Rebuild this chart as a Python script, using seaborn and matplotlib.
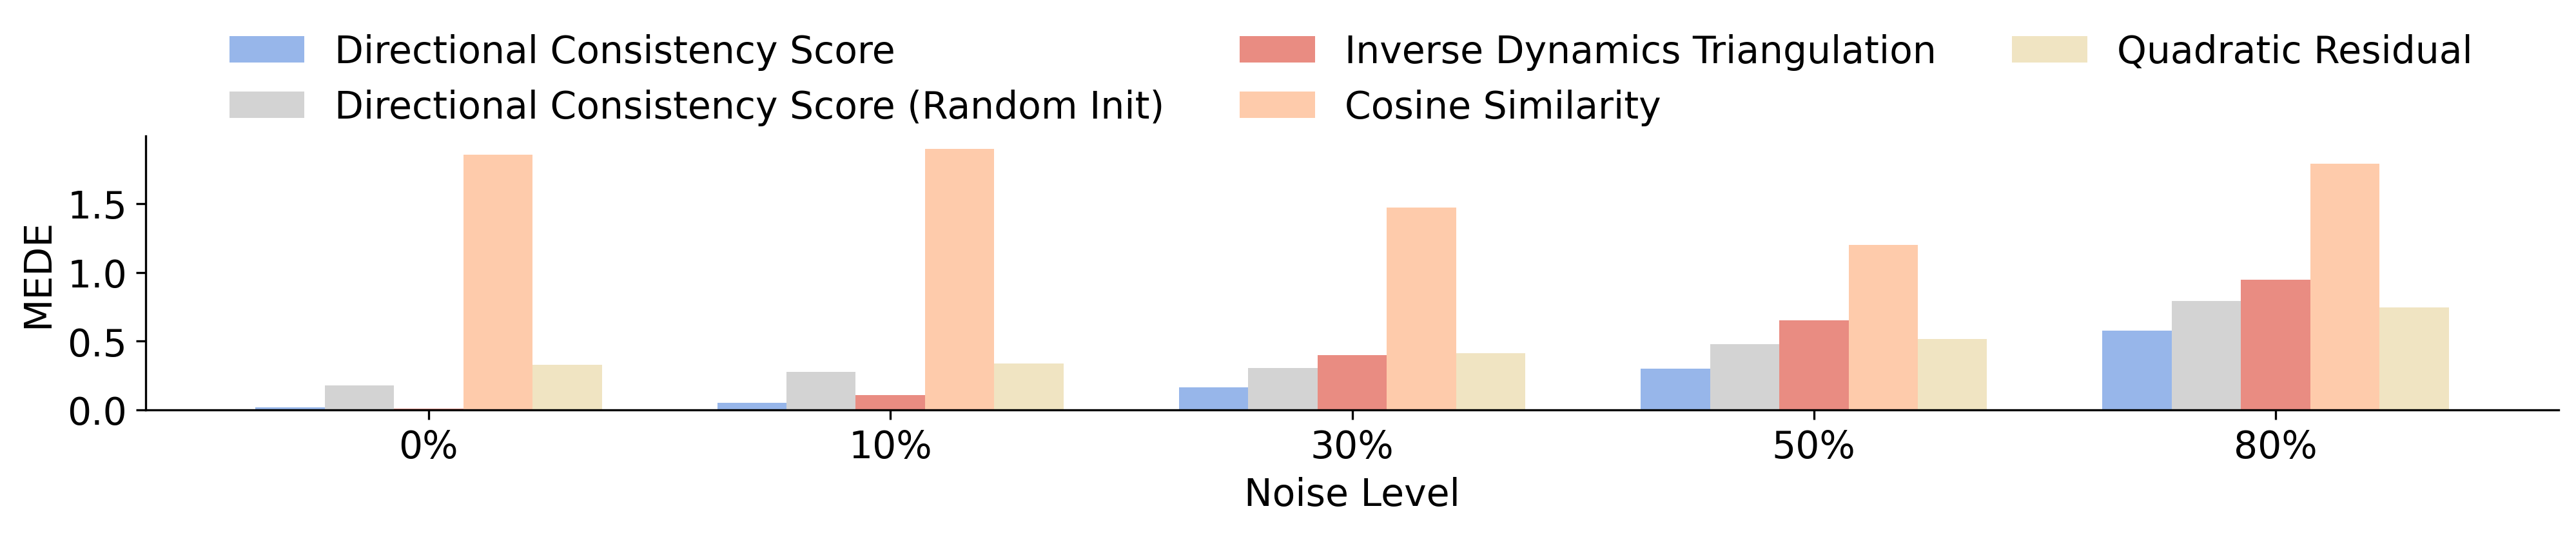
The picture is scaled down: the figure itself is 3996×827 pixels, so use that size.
import pandas as pd
import seaborn as sb
from matplotlib import pyplot as plt

# values (MEDE per noise level)
noise_levels = ["0%", "10%", "30%", "50%", "80%"]
methods = ["Directional Consistency Score",
           "Directional Consistency Score (Random Init)",
           "Inverse Dynamics Triangulation",
           "Cosine Similarity",
           "Quadratic Residual"]
dcs = [0.02, 0.05, 0.163, 0.30, 0.576]
dcs_random = [0.18, 0.276, 0.304, 0.478, 0.792]
idt = [0.01, 0.107, 0.398, 0.651, 0.947]
cosine = [1.854, 1.896, 1.469, 1.201, 1.788]
quadratic = [0.327, 0.337, 0.412, 0.515, 0.745]
colors = ["#97b6ea", "#d3d3d3", "#e98c82", "#fecbab", "#f0e4c2"]

# long-form table for seaborn
rows = []
for m, vals in zip(methods, [dcs, dcs_random, idt, cosine, quadratic]):
    for lvl, v in zip(noise_levels, vals):
        rows.append({"Noise Level": lvl, "MEDE": v, "Method": m})
df = pd.DataFrame(rows)

fig, ax = plt.subplots(figsize=(13.32, 2.76), dpi=300)
fig.subplots_adjust(left=0.0566, right=0.9932, bottom=0.2307, top=0.744)

sb.barplot(data=df, x="Noise Level", y="MEDE", hue="Method", palette=colors,
           hue_order=methods, order=noise_levels, width=0.75, saturation=1,
           linewidth=0, ax=ax)
ax.set_xlim(-0.6125, 4.6125)
ax.set_ylim(0, 1.991)
ax.set_yticks([0, 0.5, 1.0, 1.5])
ax.set_xlabel("Noise Level", fontsize=14)
ax.set_ylabel("MEDE", fontsize=14)
ax.tick_params(labelsize=14)
sb.despine(ax=ax)

sb.move_legend(ax, "upper center", bbox_to_anchor=(0.5245, 1.0), bbox_transform=fig.transFigure,
               ncol=3, frameon=False, title=None, fontsize=14)

plt.savefig("out.png", dpi=300)
